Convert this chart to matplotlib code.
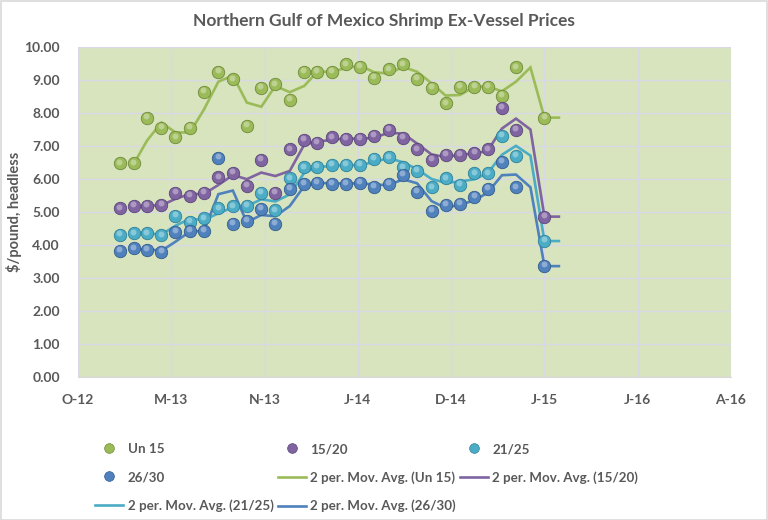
import numpy as np
import pandas as pd
import matplotlib
matplotlib.use("Agg")
import matplotlib.pyplot as plt
import matplotlib.dates as mdates
from matplotlib.lines import Line2D
from matplotlib.patches import Rectangle

nan = float("nan")

# ---- data ----
dates = pd.date_range("2013-01-01", periods=32, freq="MS") + pd.Timedelta(days=14)
un15 = [6.47, 6.47, 7.86, 7.56, 7.26, 7.56, 8.65, 9.25, 9.02, 7.61, 8.77, 8.87, 8.39, 9.25, 9.25, 9.25,
        9.47, 9.40, 9.07, 9.32, 9.47, 9.03, 8.77, 8.29, 8.80, 8.80, 8.80, 8.52, 9.38, nan, 7.86, nan]
s1520 = [5.11, 5.19, 5.19, 5.21, 5.59, 5.50, 5.59, 6.05, 6.19, 5.80, 6.59, 5.59, 6.90, 7.18, 7.10, 7.26,
         7.21, 7.21, 7.30, 7.50, 7.25, 6.90, 6.59, 6.74, 6.74, 6.80, 6.90, 8.16, 7.50, nan, 4.86, nan]
s2125 = [4.30, 4.35, 4.35, 4.29, 4.88, 4.71, 4.81, 5.11, 5.17, 5.18, 5.59, 5.05, 6.02, 6.35, 6.37, 6.42,
         6.42, 6.42, 6.61, 6.66, 6.35, 6.25, 5.75, 6.02, 5.82, 6.17, 6.17, 7.30, 6.71, nan, 4.12, nan]
s2630 = [3.83, 3.90, 3.85, 3.80, 4.40, 4.42, 4.43, 6.65, 4.65, 4.73, 5.09, 4.65, 5.71, 5.86, 5.89, 5.86,
         5.86, 5.89, 5.77, 5.86, 6.12, 5.62, 5.04, 5.21, 5.24, 5.46, 5.71, 6.52, 5.75, nan, 3.36, nan]
series_names = ["Un 15", "15/20", "21/25", "26/30"]
series_values = [un15, s1520, s2125, s2630]
colors = ["#9BBB59", "#8064A2", "#4BACC6", "#4F81BD"]
edge_colors = ["#6F8A3A", "#5A4578", "#2F8098", "#345C8C"]

axis_start = pd.Timestamp("2012-10-18")
axis_step_days = 200
tick_labels = ["O-12", "M-13", "N-13", "J-14", "D-14", "J-15", "J-16", "A-16"]
y_ticks = [0, 1, 2, 3, 4, 5, 6, 7, 8, 9, 10]

FONT = ["Lato", "DejaVu Sans"]
TXT = "#595959"
plt.rcParams["font.family"] = FONT

fig = plt.figure(figsize=(7.68, 5.2), dpi=100)
fig.patch.set_facecolor("white")
ax = fig.add_axes([78 / 768, 1 - 377 / 520, (731 - 78) / 768, (377 - 47) / 520])
ax.set_facecolor("#D7E4BD")

xnum = mdates.date2num(dates)
tick_dates = [axis_start + pd.Timedelta(days=axis_step_days * i) for i in range(len(tick_labels))]
tnum = mdates.date2num(tick_dates)

handles_pts, handles_ma = [], []
for name, vals, c, ec in zip(series_names, series_values, colors, edge_colors):
    y = pd.Series(vals, dtype=float)
    ma = y.rolling(2, min_periods=1).mean()
    ma.iloc[0] = np.nan
    ax.plot(xnum, ma.values, color=c, lw=1.9, zorder=3, solid_joinstyle="miter")
    ax.scatter(xnum, y.values, s=80, color=c, edgecolors=ec, linewidths=0.6, zorder=4)
    ax.scatter(xnum - 1.8, y.values + 0.05, s=18, color="white", alpha=0.35, linewidths=0, zorder=5)
    handles_pts.append(Line2D([], [], ls="none", marker="o", ms=7, mfc=c, mec=ec, mew=0.5, label=name))
    handles_ma.append(Line2D([], [], color=c, lw=1.9, label="2 per. Mov. Avg. (%s)" % name))

ax.set_xlim(tnum[0], tnum[-1])
ax.set_ylim(0, 10)
ax.set_xticks(tnum)
ax.set_xticklabels(tick_labels)
ax.set_yticks(y_ticks)
ax.set_yticklabels(["%.2f" % v for v in y_ticks])
ax.grid(True, color="#D9D9E6", lw=1.0, zorder=0)
ax.set_axisbelow(True)
for s in ["top", "right", "left"]:
    ax.spines[s].set_visible(False)
ax.spines["bottom"].set_color("#D9D9D9")
ax.tick_params(axis="both", length=0, labelcolor=TXT, labelsize=10)
ax.tick_params(axis="x", pad=12)
ax.tick_params(axis="y", pad=13)
for lab in ax.get_xticklabels() + ax.get_yticklabels():
    lab.set_fontweight("bold")

ax.set_ylabel("$/pound, headless", fontsize=10.5, fontweight="bold", color=TXT)
ax.yaxis.set_label_coords(-0.086, 0.5)

fig.text(0.5, 1 - 21 / 520, "Northern Gulf of Mexico Shrimp Ex-Vessel Prices", ha="center", va="center",
         fontsize=12.5, fontweight="bold", color=TXT)

h = handles_pts + handles_ma
order = [0, 3, 6, 1, 4, 7, 2, 5]
leg = fig.legend([h[i] for i in order], [h[i].get_label() for i in order],
                 loc="upper left", bbox_to_anchor=(95 / 768, 1 - 443 / 520), ncol=3,
                 frameon=False, fontsize=9.6, handlelength=2.1, handletextpad=0.35,
                 columnspacing=0.3, labelspacing=1.2, borderpad=0, borderaxespad=0)
for t in leg.get_texts():
    t.set_fontweight("bold")
    t.set_color(TXT)

fig.patches.append(Rectangle((0.5 / 768, 0.5 / 520), 1 - 1.5 / 768, 1 - 1.5 / 520, transform=fig.transFigure,
                             fill=False, edgecolor="#D9D9D9", lw=1.2))

fig.savefig("out.png", dpi=100, facecolor="white")
